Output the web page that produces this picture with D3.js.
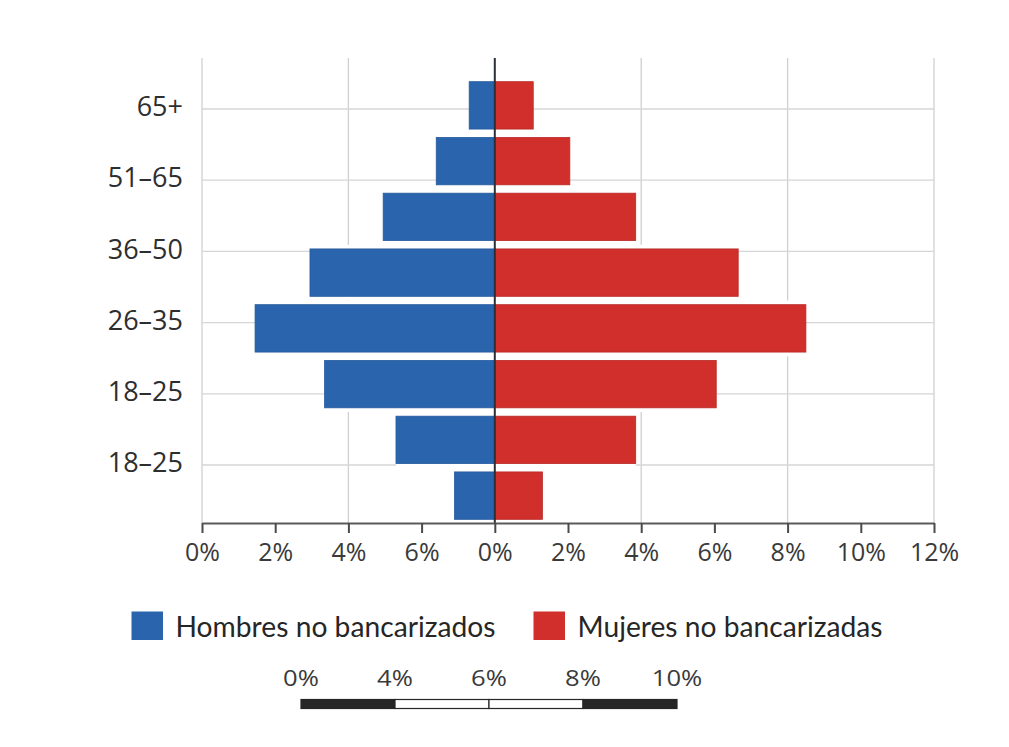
<!DOCTYPE html>
<html lang="es">
<head>
<meta charset="utf-8">
<title>Población no bancarizada por edad y sexo</title>
<script src="https://cdn.jsdelivr.net/npm/d3@7"></script>
<style>
  html, body { margin: 0; padding: 0; background: #ffffff; }
  svg { display: block; font-family: "Open Sans", "Noto Sans", sans-serif; }
</style>
</head>
<body>
<svg id="chart" width="1009" height="747"></svg>
<script>
// Age-group labels on the vertical axis
const ageLabels = ["65+", "51–65", "36–50", "26–35", "18–25", "18–25"];

// One entry per bar row, top to bottom (share of population, %)
const hombres = [0.7, 1.6, 3.05, 5.05, 6.55, 4.65, 2.7, 1.1];
const mujeres = [1.05, 2.05, 3.85, 6.65, 8.5, 6.05, 3.85, 1.3];

// Horizontal axis ticks and their printed labels
const xTickValues = [-8, -6, -4, -2, 0, 2, 4, 6, 8, 10, 12];
const xTickLabels = ["0%", "2%", "4%", "6%", "0%", "2%", "4%", "6%", "8%", "10%", "12%"];
const xGridValues = [-8, -4, 4, 8, 12];

// Legend
const seriesNames = ["Hombres no bancarizados", "Mujeres no bancarizadas"];
const seriesColors = ["#2a64ad", "#d02f2b"];

// Scale bar below the legend
const scaleBarLabels = ["0%", "4%", "6%", "8%", "10%"];
const scaleBarFills = ["#262626", "#ffffff", "#ffffff", "#262626"];

const svg = d3.select("#chart");

const x = d3.scaleLinear().domain([-8, 12]).range([202, 934]);
const rows = d3.range(hombres.length);
const y = d3.scaleBand().domain(rows).range([77.5, 523.5])
  .paddingInner(0.15).paddingOuter(0.075);
const yLabel = d3.scalePoint().domain(d3.range(ageLabels.length)).range([109, 465]);

const plotTop = 58, plotBottom = 523;

// Grid
const grid = svg.append("g").attr("class", "grid");
grid.selectAll("line.v").data(xGridValues).join("line")
  .attr("class", "v")
  .attr("x1", d => x(d)).attr("x2", d => x(d))
  .attr("y1", plotTop).attr("y2", plotBottom)
  .attr("stroke", "#cfcfcf").attr("stroke-width", 1.3);
grid.selectAll("line.h").data(d3.range(ageLabels.length)).join("line")
  .attr("class", "h")
  .attr("x1", x(-8)).attr("x2", x(12))
  .attr("y1", d => yLabel(d)).attr("y2", d => yLabel(d))
  .attr("stroke", "#d6d6d6").attr("stroke-width", 1.3);

// Bars: a white backing over the whole row step hides grid in the gaps
const gap = y.step() - y.bandwidth();
const bars = svg.append("g").attr("class", "bars");
const rowData = rows.map(i => ({ i, h: hombres[i], m: mujeres[i] }));

bars.selectAll("rect.back").data(rowData).join("rect")
  .attr("class", "back")
  .attr("x", d => x(-d.h))
  .attr("width", d => x(d.m) - x(-d.h))
  .attr("y", d => y(d.i) - gap / 2)
  .attr("height", y.step())
  .attr("fill", "#ffffff");

bars.selectAll("rect.hombres").data(rowData).join("rect")
  .attr("class", "hombres")
  .attr("x", d => x(-d.h))
  .attr("width", d => x(0) - x(-d.h))
  .attr("y", d => y(d.i))
  .attr("height", y.bandwidth())
  .attr("fill", seriesColors[0])
  .attr("stroke", "#245a9c").attr("stroke-width", 0.8);

bars.selectAll("rect.mujeres").data(rowData).join("rect")
  .attr("class", "mujeres")
  .attr("x", x(0))
  .attr("width", d => x(d.m) - x(0))
  .attr("y", d => y(d.i))
  .attr("height", y.bandwidth())
  .attr("fill", seriesColors[1])
  .attr("stroke", "#b92a27").attr("stroke-width", 0.8);

// Centre line
svg.append("line")
  .attr("x1", x(0)).attr("x2", x(0))
  .attr("y1", plotTop).attr("y2", plotBottom)
  .attr("stroke", "#2b2f38").attr("stroke-width", 2);

// Horizontal axis
const xAxis = d3.axisBottom(x)
  .tickValues(xTickValues)
  .tickFormat((d, i) => xTickLabels[i])
  .tickSize(10).tickSizeOuter(0).tickPadding(10);
const gx = svg.append("g").attr("transform", `translate(0,${plotBottom})`).call(xAxis);
gx.select(".domain").attr("stroke", "#5a5a5a").attr("stroke-width", 2.2);
gx.selectAll(".tick line").attr("stroke", "#4a4a4a").attr("stroke-width", 2);
gx.selectAll(".tick text")
  .attr("fill", "#3a3a3a")
  .style("font-size", "25px")
  .style("font-family", "'Open Sans', sans-serif");

// Age labels
const yAxis = d3.axisLeft(yLabel)
  .tickFormat(i => ageLabels[i])
  .tickSize(0).tickPadding(19);
const gy = svg.append("g").attr("transform", `translate(${x(-8)},-2)`).call(yAxis);
gy.select(".domain").remove();
gy.selectAll(".tick text")
  .attr("fill", "#2e2e2e")
  .style("font-size", "27px")
  .style("font-family", "'Open Sans', sans-serif");

// Legend
const legendX = d3.scalePoint().domain(seriesNames).range([131.5, 533.5]);
const legend = svg.append("g").attr("class", "legend");
const legendWidths = [320, 305];
const item = legend.selectAll("g").data(seriesNames).join("g")
  .attr("transform", d => `translate(${legendX(d)},611.5)`);
item.append("rect")
  .attr("width", 31.5).attr("height", 28.5)
  .attr("fill", (d, i) => seriesColors[i]);
item.append("text")
  .attr("x", 44).attr("y", 25.3)
  .attr("fill", "#262626")
  .style("font-family", "Lato, 'Open Sans', sans-serif")
  .style("font-size", "29px")
  .attr("textLength", (d, i) => legendWidths[i])
  .attr("lengthAdjust", "spacingAndGlyphs")
  .text(d => d);

// Scale bar
const sb = d3.scalePoint().domain(scaleBarLabels).range([301, 677]);
const scaleBar = svg.append("g").attr("class", "scale-bar");
const segs = scaleBarFills.map((f, i) => ({ a: scaleBarLabels[i], b: scaleBarLabels[i + 1], f }));
scaleBar.selectAll("rect").data(segs).join("rect")
  .attr("x", d => sb(d.a))
  .attr("width", d => sb(d.b) - sb(d.a))
  .attr("y", 699.5).attr("height", 9)
  .attr("fill", d => d.f)
  .attr("stroke", "#262626").attr("stroke-width", 1.2);
scaleBar.selectAll("text").data(scaleBarLabels).join("text")
  .attr("transform", d => `translate(${sb(d)},686) scale(1.22,1)`)
  .attr("text-anchor", "middle")
  .attr("fill", "#3a3a3a")
  .style("font-size", "21px")
  .style("font-family", "'Open Sans', sans-serif")
  .text(d => d);
</script>
</body>
</html>
